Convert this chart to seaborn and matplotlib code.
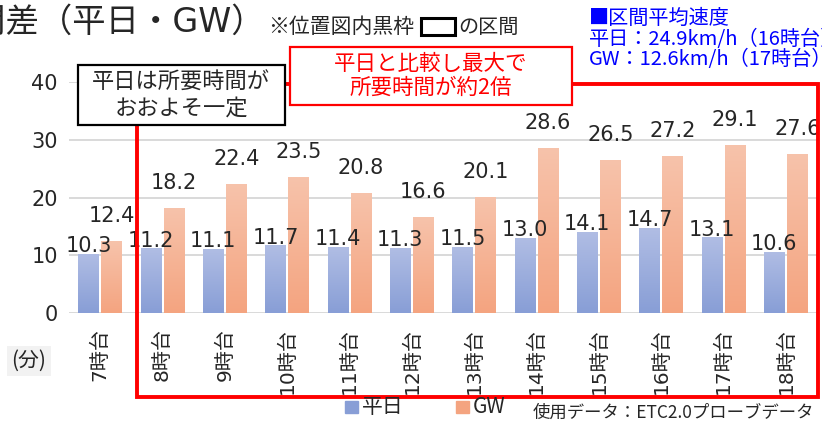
import seaborn as sns
import matplotlib.pyplot as plt
import matplotlib.patches as mpatches
from matplotlib.colors import LinearSegmentedColormap
import pandas as pd
import numpy as np

hours = ['7時台', '8時台', '9時台', '10時台', '11時台', '12時台',
         '13時台', '14時台', '15時台', '16時台', '17時台', '18時台']
weekday = [10.3, 11.2, 11.1, 11.7, 11.4, 11.3, 11.5, 13.0, 14.1, 14.7, 13.1, 10.6]
gw = [12.4, 18.2, 22.4, 23.5, 20.8, 16.6, 20.1, 28.6, 26.5, 27.2, 29.1, 27.6]
series_names = ['平日', 'GW']
y_ticks = [0, 10, 20, 30, 40]

blue_bot, blue_top = '#889ED6', '#B0BDE4'
orange_bot, orange_top = '#F4A480', '#F7C3AB'

df = pd.DataFrame({
    '時間帯': hours * 2,
    '所要時間': weekday + gw,
    '区分': [series_names[0]] * len(hours) + [series_names[1]] * len(hours),
})

sns.set_style('white')
plt.rcParams['font.family'] = ['DejaVu Sans', 'Noto Sans CJK JP']
jp = ['Noto Sans CJK JP', 'DejaVu Sans']

W, H = 822, 425
fig = plt.figure(figsize=(W / 100, H / 100), dpi=100)
ax = fig.add_axes([69 / W, 1 - 313 / H, (817 - 69) / W, (313 - 82) / H])

sns.barplot(data=df, x='時間帯', y='所要時間', hue='区分', order=hours,
            hue_order=series_names, palette=[blue_bot, orange_bot],
            width=0.74, gap=0.1, legend=False, ax=ax)

# gradient fill, lighter at the top of each bar
cm_blue = LinearSegmentedColormap.from_list('b', [blue_bot, blue_top])
cm_orange = LinearSegmentedColormap.from_list('o', [orange_bot, orange_top])
grad = np.linspace(0, 1, 100).reshape(-1, 1)
bars = list(ax.patches)
values = weekday + gw
for i, p in enumerate(bars):
    x0, y0 = p.get_x(), p.get_y()
    w, h = p.get_width(), p.get_height()
    cm = cm_blue if i < len(hours) else cm_orange
    im = ax.imshow(grad, cmap=cm, origin='lower', aspect='auto',
                   extent=[x0, x0 + w, y0, y0 + h], zorder=2)
    im.set_clip_path(p)
    p.set_alpha(0)

ax.set_xlim(-0.5, len(hours) - 0.5)
ax.set_ylim(0, 40)
ax.set_yticks(y_ticks)
ax.yaxis.grid(True, color='#D9D9D9', linewidth=1.4)
ax.set_axisbelow(True)
for s in ax.spines.values():
    s.set_visible(False)
ax.tick_params(axis='y', length=0, pad=8, labelsize=15)
ax.tick_params(axis='x', length=0, pad=11, labelsize=14.5)
plt.setp(ax.get_xticklabels(), rotation=90, va='top')
ax.set_xlabel('')
ax.set_ylabel('')

# value labels: weekday just above the bar, GW a bit higher
for i, p in enumerate(bars):
    off = 0.3 if i < len(hours) else 3.3
    ax.text(p.get_x() + p.get_width() / 2, p.get_height() + off, f'{values[i]:.1f}',
            ha='center', va='baseline', fontsize=15, zorder=5)

def fx(px):
    return px / W

def fy(py):
    return 1 - py / H

# big red frame
fig.patches.append(mpatches.Rectangle((fx(137), fy(397)), fx(818) - fx(137), fy(84) - fy(397),
                                      transform=fig.transFigure, fill=False,
                                      edgecolor='#FF0000', linewidth=2.8, zorder=3))

# annotation boxes
fig.patches.append(mpatches.Rectangle((fx(78), fy(125)), fx(285) - fx(78), fy(65) - fy(125),
                                      transform=fig.transFigure, fc='white',
                                      ec='black', lw=1.6, zorder=8))
fig.text(fx(181), fy(95), '平日は所要時間が\nおおよそ一定', ha='center', va='center',
         fontsize=16, linespacing=1.15, zorder=10, family=jp)
fig.patches.append(mpatches.Rectangle((fx(290), fy(105)), fx(572) - fx(290), fy(47) - fy(105),
                                      transform=fig.transFigure, fc='white',
                                      ec='#FF0000', lw=1.6, zorder=8))
fig.text(fx(431), fy(76), '平日と比較し最大で\n所要時間が約2倍', ha='center', va='center',
         fontsize=15.5, color='#FF0000', linespacing=1.15, zorder=10, family=jp)

# title and notes
fig.text(fx(265), fy(22), '所要時間差（平日・GW）', ha='right', va='center', fontsize=24)
fig.text(fx(268), fy(27), '※位置図内黒枠', ha='left', va='center', fontsize=15, family=jp)
fig.patches.append(mpatches.Rectangle((fx(421), fy(35)), fx(455) - fx(421), fy(18) - fy(35),
                                      transform=fig.transFigure, fill=False,
                                      edgecolor='black', linewidth=2.2))
fig.text(fx(458), fy(27), 'の区間', ha='left', va='center', fontsize=14.5, family=jp)

fig.text(fx(589), fy(39), '■区間平均速度\n平日：24.9km/h（16時台）\nGW：12.6km/h（17時台）',
         ha='left', va='center', fontsize=14.5, color='#0000FF', linespacing=0.98, family=jp)

fig.text(fx(29), fy(361), '(分)', ha='center', va='center', fontsize=15, family=jp,
         bbox=dict(boxstyle='square,pad=0.2', fc='#F2F2F2', ec='none'))

# legend
fig.patches.append(mpatches.Rectangle((fx(345), fy(413)), fx(358) - fx(345), fy(401) - fy(413),
                                      transform=fig.transFigure, color=blue_bot))
fig.text(fx(362), fy(407), series_names[0], ha='left', va='center', fontsize=15, family=jp)
fig.patches.append(mpatches.Rectangle((fx(456), fy(413)), fx(469) - fx(456), fy(401) - fy(413),
                                      transform=fig.transFigure, color=orange_bot))
fig.text(fx(473), fy(407), series_names[1], ha='left', va='center', fontsize=15, family=jp)
fig.text(fx(533), fy(413), '使用データ：ETC2.0プローブデータ', ha='left', va='center',
         fontsize=12.5, family=jp)

plt.savefig('out.png', dpi=100)
